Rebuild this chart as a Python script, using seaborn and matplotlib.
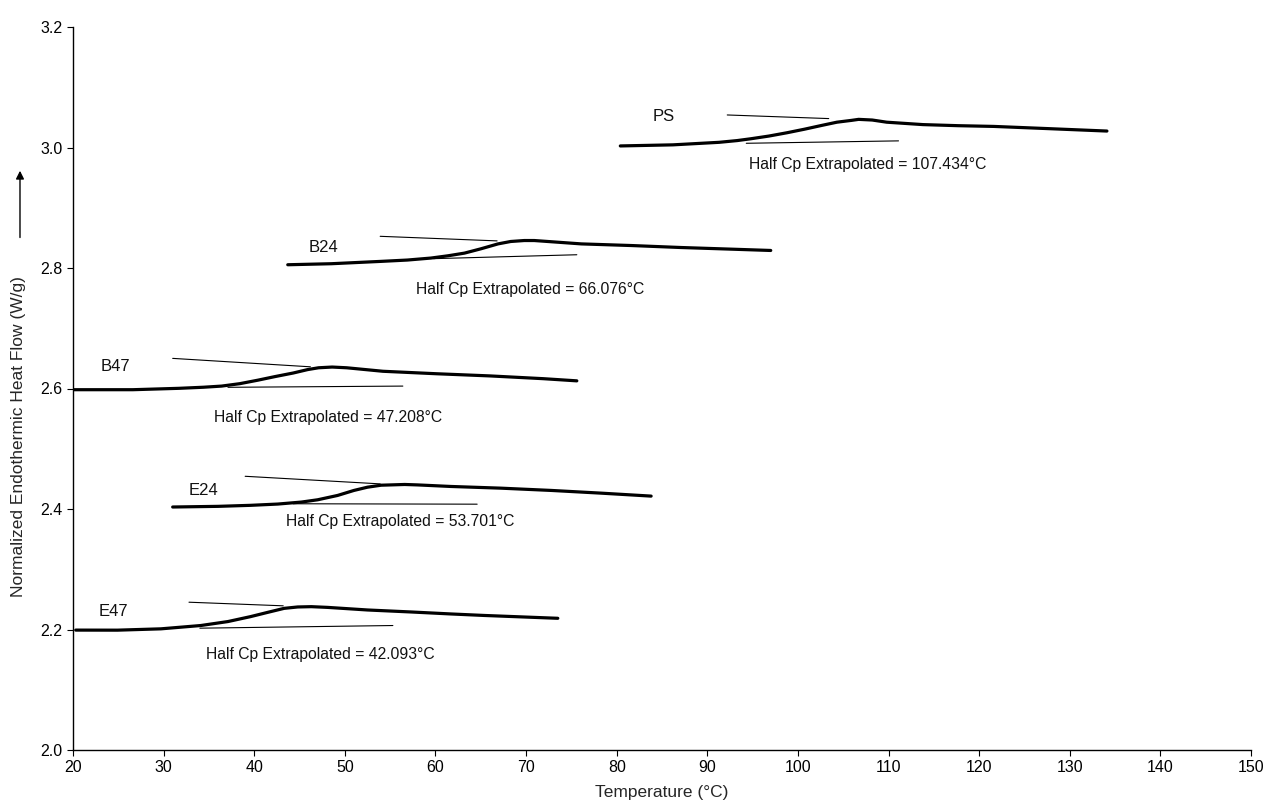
import matplotlib
matplotlib.use("Agg")
import matplotlib.pyplot as plt
import seaborn as sns
import pandas as pd

# ---- data (Temperature °C, Normalized heat flow W/g) ----
samples = ["PS", "B24", "B47", "E24", "E47"]

ps_t = [80.4, 86.2, 91.3, 93.3, 94.8, 96.8, 98.8, 100.7, 102.7, 104.3, 105.9, 106.7,
        108.2, 109.8, 113.8, 117.7, 121.6, 127.5, 134.1]
ps_h = [3.0026, 3.0044, 3.0086, 3.0115, 3.0145, 3.019, 3.0245, 3.0303, 3.0369, 3.042,
        3.045, 3.0467, 3.0456, 3.042, 3.038, 3.0362, 3.035, 3.0314, 3.0273]

b24_t = [43.7, 48.5, 54.0, 56.9, 59.5, 61.4, 63.2, 65.0, 66.9, 68.3, 69.8, 70.9,
         72.4, 76.1, 81.6, 87.1, 92.6, 97.0]
b24_h = [2.8054, 2.8071, 2.811, 2.8132, 2.8165, 2.8203, 2.8247, 2.8318, 2.840, 2.844,
         2.8456, 2.8456, 2.844, 2.840, 2.8373, 2.834, 2.8313, 2.8291]

b47_t = [20.0, 26.6, 31.7, 34.4, 36.4, 38.4, 40.4, 42.3, 44.3, 45.9, 47.1, 48.6,
         50.2, 54.2, 60.1, 66.0, 71.9, 75.6]
b47_h = [2.598, 2.598, 2.6003, 2.6021, 2.604, 2.608, 2.6138, 2.6198, 2.6257, 2.6314,
         2.6344, 2.6356, 2.6344, 2.6286, 2.6245, 2.6209, 2.6163, 2.6127]

e24_t = [31.0, 36.0, 39.6, 42.6, 45.2, 47.0, 49.2, 51.0, 52.5, 54.0, 55.1, 56.6,
         58.0, 61.7, 67.2, 72.8, 78.3, 83.8]
e24_h = [2.4033, 2.4044, 2.4061, 2.4082, 2.4115, 2.4153, 2.4225, 2.4308, 2.4362, 2.4395,
         2.440, 2.4407, 2.440, 2.4374, 2.4346, 2.4308, 2.4263, 2.4214]

e47_t = [20.3, 24.9, 29.7, 34.1, 37.1, 39.6, 41.5, 43.3, 44.8, 46.3, 48.1, 52.5,
         57.3, 61.7, 65.4, 73.5]
e47_h = [2.199, 2.1989, 2.2011, 2.2066, 2.2132, 2.2214, 2.2285, 2.2351, 2.2374, 2.2379,
         2.2367, 2.2324, 2.2291, 2.2258, 2.2233, 2.2186]

# tangent lines (start/end points)
upper_t = {"PS": [92.2, 103.4], "B24": [53.9, 66.8], "B47": [31.0, 46.2], "E24": [39.0, 53.9], "E47": [32.8, 43.2]}
upper_h = {"PS": [3.054, 3.048], "B24": [2.8526, 2.845], "B47": [2.650, 2.636], "E24": [2.4543, 2.4417], "E47": [2.2453, 2.2393]}
lower_t = {"PS": [94.3, 111.1], "B24": [59.8, 75.6], "B47": [37.1, 56.4], "E24": [44.3, 64.6], "E47": [34.0, 55.3]}
lower_h = {"PS": [3.007, 3.011], "B24": [2.8155, 2.822], "B47": [2.602, 2.604], "E24": [2.4087, 2.408], "E47": [2.2022, 2.2066]}

half_cp = {"PS": "107.434", "B24": "66.076", "B47": "47.208", "E24": "53.701", "E47": "42.093"}
half_cp_pos = {"PS": (107.7, 2.972), "B24": (70.4, 2.764), "B47": (48.1, 2.552), "E24": (56.1, 2.3786), "E47": (47.3, 2.159)}
label_pos = {"PS": (85.2, 3.051), "B24": (47.6, 2.834), "B47": (24.7, 2.636), "E24": (34.4, 2.431), "E47": (24.5, 2.2296)}

x_ticks = [20, 30, 40, 50, 60, 70, 80, 90, 100, 110, 120, 130, 140, 150]
y_ticks = [2.0, 2.2, 2.4, 2.6, 2.8, 3.0, 3.2]

curves = {"PS": (ps_t, ps_h), "B24": (b24_t, b24_h), "B47": (b47_t, b47_h),
          "E24": (e24_t, e24_h), "E47": (e47_t, e47_h)}

# ---- plotting ----
sns.set_theme(style="ticks")
plt.rcParams["font.family"] = ["Liberation Sans", "DejaVu Sans"]

fig = plt.figure(figsize=(12.68, 8.01), dpi=100)
ax = fig.add_axes([73 / 1268, 51 / 801, (1251 - 73) / 1268, (750 - 27) / 801])

for s in samples:
    t, h = curves[s]
    df = pd.DataFrame({"Temperature": t, "HeatFlow": h})
    sns.lineplot(data=df, x="Temperature", y="HeatFlow", color="black", lw=2.3, ax=ax,
                 estimator=None)
    ax.plot(upper_t[s], upper_h[s], color="black", lw=0.8)
    ax.plot(lower_t[s], lower_h[s], color="black", lw=0.8)
    hx, hy = half_cp_pos[s]
    ax.text(hx, hy, f"Half Cp Extrapolated = {half_cp[s]}°C", ha="center", va="center",
            fontsize=11.3, color="#111111")
    lx, ly = label_pos[s]
    ax.text(lx, ly, s, ha="center", va="center", fontsize=12, color="#111111")

ax.set_xlim(20, 150)
ax.set_ylim(2.0, 3.2)
ax.set_xticks(x_ticks)
ax.set_yticks(y_ticks)
ax.set_xticklabels([str(v) for v in x_ticks])
ax.set_yticklabels([f"{v:.1f}" for v in y_ticks])
ax.tick_params(axis="both", labelsize=11.5, direction="out", length=4, width=0.8, colors="black")

sns.despine(ax=ax, top=True, right=True)
for sp in ["left", "bottom"]:
    ax.spines[sp].set_linewidth(1.0)
    ax.spines[sp].set_color("black")

ax.set_xlabel("Temperature (°C)", fontsize=12.5)
ax.xaxis.set_label_coords(0.5, -0.049)
ax.set_ylabel("Normalized Endothermic Heat Flow (W/g)", fontsize=12.5)
ax.yaxis.set_label_coords(-0.040, 0.433)

ax.annotate("", xy=(-0.045, 0.805), xytext=(-0.045, 0.705), xycoords="axes fraction",
            textcoords="axes fraction", annotation_clip=False,
            arrowprops=dict(arrowstyle="-|>", color="black", lw=1.0, mutation_scale=12))

fig.savefig("out.png", dpi=100, facecolor="white")
